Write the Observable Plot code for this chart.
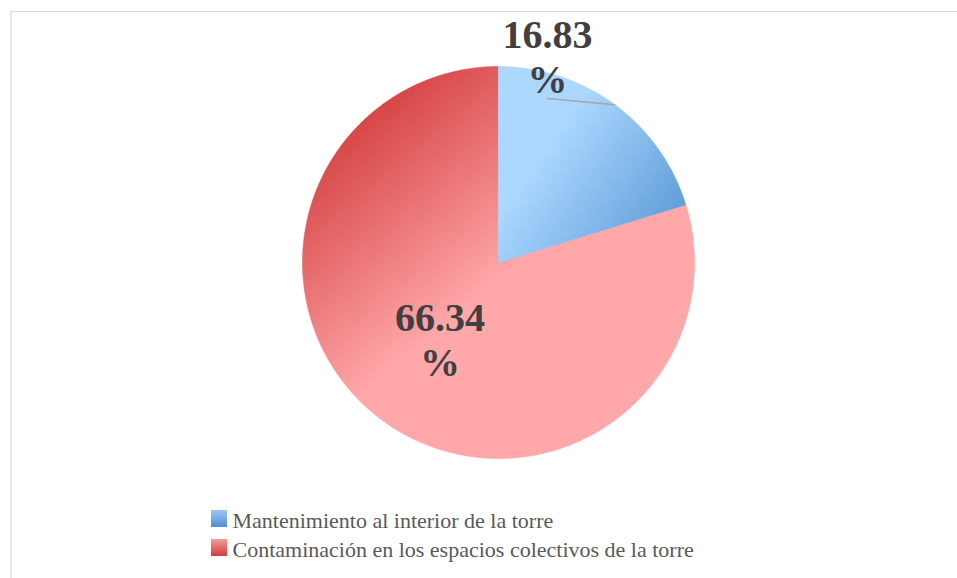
<!DOCTYPE html>
<html>
<head>
<meta charset="utf-8">
<script src="https://cdn.jsdelivr.net/npm/d3@7"></script>
<script src="https://cdn.jsdelivr.net/npm/@observablehq/plot@0.6"></script>
<style>
  html, body { margin: 0; padding: 0; background: #fff; }
  #chart svg { display: block; }
</style>
</head>
<body>
<div id="chart"></div>
<script>
// ---- data ----
const categories = [
  "Mantenimiento al interior de la torre",
  "Contaminación en los espacios colectivos de la torre"
];
const values = [16.83, 66.34];
const labels = ["16.83\n%", "66.34\n%"];

// ---- layout ----
const W = 957, H = 578;
const cx = 498, cy = 262, R = 196;
const gradIds = ["gBlue", "gRed"];
const legendIds = ["lgBlue", "lgRed"];

const arcs = d3.pie().sort(null).value(d => d)(values);
const pt = (a, r) => [cx + r * Math.sin(a), cy - r * Math.cos(a)];

// slice polygons built from pie angles
const slices = arcs.map((a, i) => {
  const pts = [{x: cx, y: cy, k: i}];
  const n = Math.max(8, Math.ceil((a.endAngle - a.startAngle) / (Math.PI / 360)));
  for (let j = 0; j <= n; j++) {
    const t = a.startAngle + (a.endAngle - a.startAngle) * j / n;
    const [x, y] = pt(t, R);
    pts.push({x, y, k: i});
  }
  pts.push({x: cx, y: cy, k: i});
  return pts;
});

// leader line for the small slice (ends on arc at mid-angle)
const midA = (arcs[0].startAngle + arcs[0].endAngle) / 2;
const [lx, ly] = pt(midA, R);
const leader = [{x: 547, y: 98}, {x: lx, y: ly}];

// labels
const midB = (arcs[1].startAngle + arcs[1].endAngle) / 2;
const [rx, ry] = pt(midB, R * 0.52);
const labelData = [
  {x: 547, y: 92, text: labels[0]},
  {x: rx + 2, y: ry + 31, text: labels[1]}
];

// legend
const legend = categories.map((c, i) => ({
  name: c, x1: 211, x2: 227, y1: 510 + i * 29, y2: 527 + i * 29, ty: 527 + i * 29, id: legendIds[i]
}));

const chart = Plot.plot({
  width: W, height: H,
  margin: 0,
  x: {domain: [0, W], range: [0, W], axis: null},
  y: {domain: [0, H], range: [0, H], axis: null},
  style: {background: "#fff", overflow: "visible"},
  marks: [
    Plot.ruleY([11], {x1: 10, x2: W, stroke: "#d9d9d9", strokeWidth: 1.2}),
    Plot.ruleX([10.5], {y1: 11, y2: H, stroke: "#d9d9d9", strokeWidth: 1.2}),
    Plot.line(slices[1], {x: "x", y: "y", fill: "url(#gRed)", stroke: "url(#gRed)", strokeWidth: 0.6}),
    Plot.line(slices[0], {x: "x", y: "y", fill: "url(#gBlue)", stroke: "url(#gBlue)", strokeWidth: 0.6}),
    Plot.line(leader, {x: "x", y: "y", stroke: "#a6a6a6", strokeWidth: 1.5}),
    Plot.text(labelData, {
      x: "x", y: "y", text: "text",
      fontFamily: "Liberation Serif", fontWeight: "bold", fontSize: 40,
      fill: "#404040", lineAnchor: "bottom", lineHeight: 1.12, textAnchor: "middle"
    }),
    Plot.rect(legend.slice(0, 1), {x1: "x1", x2: "x2", y1: "y1", y2: "y2", fill: "url(#lgBlue)"}),
    Plot.rect(legend.slice(1, 2), {x1: "x1", x2: "x2", y1: "y1", y2: "y2", fill: "url(#lgRed)"}),
    Plot.text(legend, {
      x: 232, y: "ty", text: "name", textAnchor: "start", lineAnchor: "bottom",
      fontFamily: "Liberation Serif", fontSize: 22, fill: "#595959"
    })
  ]
});

// gradients
const svg = d3.select(chart);
const defs = svg.insert("defs", ":first-child");
function lin(id, attrs, stops) {
  const g = defs.append("linearGradient").attr("id", id);
  Object.entries(attrs).forEach(([k, v]) => g.attr(k, v));
  stops.forEach(([o, c]) => g.append("stop").attr("offset", o).attr("stop-color", c));
}
lin("gBlue", {gradientUnits: "userSpaceOnUse", x1: 560, y1: 125, x2: 690, y2: 215},
  [[0, "#acd8ff"], [1, "#5c9ad6"]]);
lin("gRed", {gradientUnits: "userSpaceOnUse", x1: 335, y1: 110, x2: 485, y2: 290},
  [[0, "#d23b3b"], [1, "#ffa7a9"]]);
lin("lgBlue", {x1: 0, y1: 0, x2: 0, y2: 1}, [[0, "#9cc8f2"], [1, "#4f8ed2"]]);
lin("lgRed", {x1: 0, y1: 0, x2: 0, y2: 1}, [[0, "#f59c9c"], [1, "#d23b3b"]]);

document.getElementById("chart").appendChild(chart);
</script>
</body>
</html>
